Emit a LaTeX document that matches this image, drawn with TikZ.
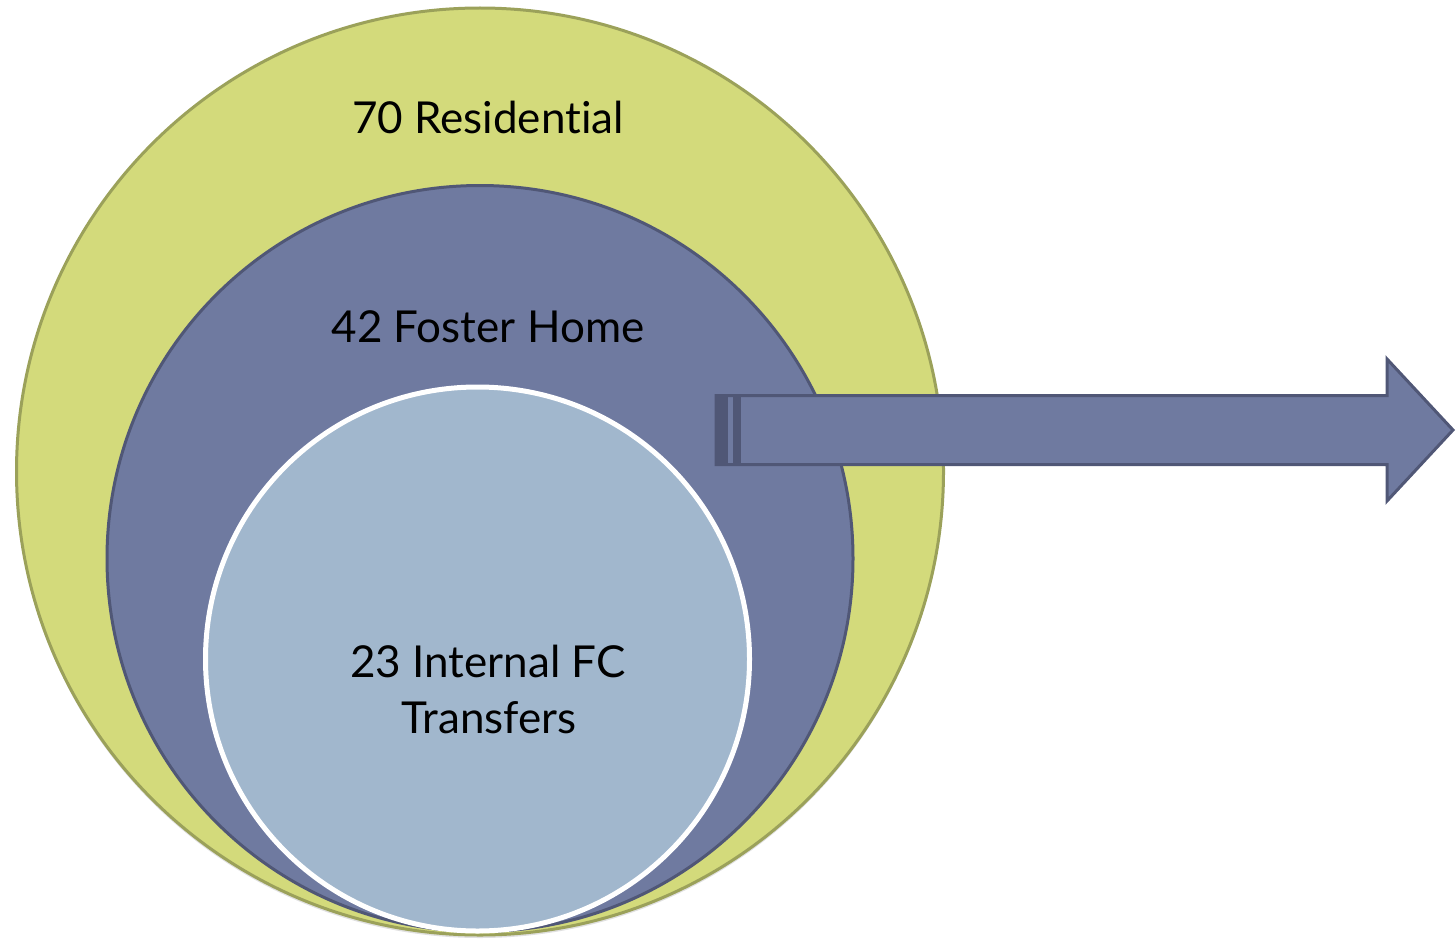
\documentclass[tikz,border=0pt]{standalone}
\usepackage{fontspec}
\setmainfont{Lato}[Ligatures=NoCommon]
\definecolor{greenfill}{RGB}{211,218,123}
\definecolor{greenline}{RGB}{155,161,90}
\definecolor{bluefill}{RGB}{111,122,160}
\definecolor{blueline}{RGB}{80,87,118}
\definecolor{lightfill}{RGB}{161,183,205}
\begin{document}
\begin{tikzpicture}[x=1pt,y=-1pt,
  lbl/.style={font=\fontsize{44}{52}\selectfont, text=black, anchor=base, inner sep=0pt}]
\useasboundingbox (0,0) rectangle (1456,942);
% shadow
\fill[black!12] (480,474) circle (464);
% outer circle
\draw[greenline, line width=3pt, fill=greenfill] (480,471.5) circle (463.5);
% middle circle
\draw[blueline, line width=3pt, fill=bluefill] (480,558.5) circle (373);
% inner circle
\draw[white, line width=5pt, fill=lightfill] (477.5,659) circle (272);
% arrow
\draw[blueline, line width=3pt, fill=bluefill, line join=miter]
  (716,395.5) -- (1387,395.5) -- (1387,359) -- (1453,430) -- (1387,501) -- (1387,464.5) -- (716,464.5) -- cycle;
\fill[blueline] (716,395) rectangle (728,465);
\fill[blueline] (733,395) rectangle (741,465);
% labels
\node[lbl] (res) at (488,133) {70 Residential};
\node[lbl] (fos) at (488,342) {42 Foster Home};
\node[lbl] (int) at (488,677) {23 Internal FC};
\node[lbl] (tra) at (489,733) {Transfers};
\end{tikzpicture}
\end{document}
